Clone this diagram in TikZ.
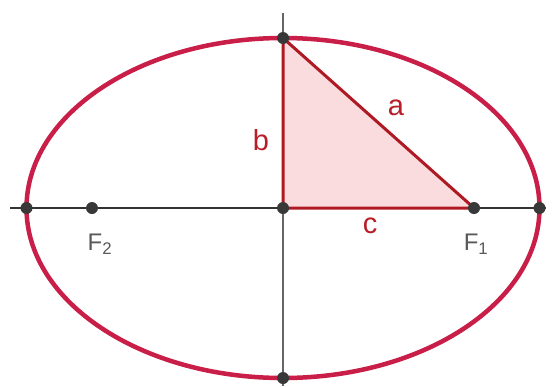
\documentclass[tikz,border=0pt]{standalone}
\usepackage{fontspec}
\setmainfont{Liberation Sans}
\begin{document}
\begin{tikzpicture}[x=1pt,y=-1pt,
  dot/.style={circle,fill=black!78,inner sep=0pt,minimum size=12pt},
  lbl/.style={text=labred,font=\fontsize{29}{31}\selectfont,inner sep=0pt},
  flbl/.style={text=black!65,font=\fontsize{24}{26}\selectfont,inner sep=0pt}]
\definecolor{ellred}{RGB}{200,30,72}
\definecolor{trired}{RGB}{175,25,35}
\definecolor{labred}{RGB}{185,30,40}
\definecolor{trifill}{RGB}{250,220,222}
\useasboundingbox (0,0) rectangle (552,386);
\fill[white] (0,0) rectangle (552,386);
\coordinate (O) at (283,208);
\coordinate (T) at (283,38);
\coordinate (F1c) at (474,208);
% triangle
\fill[trifill] (O) -- (T) -- (F1c) -- cycle;
% axes
\draw[black!80,line width=2pt] (10,208) -- (546,208);
\draw[black!60,line width=1.8pt] (283,13) -- (283,386);
% triangle edges
\draw[trired,line width=3pt] (O) -- (T) -- (F1c) -- cycle;
% ellipse
\draw[ellred,line width=4.5pt] (O) ellipse [x radius=256.5, y radius=170];
% points
\node[dot] (top) at (283,38) {};
\node[dot] (bot) at (283,378) {};
\node[dot] (left) at (26.5,208) {};
\node[dot] (right) at (539.5,208) {};
\node[dot] (ctr) at (O) {};
\node[dot] (f1) at (474,208) {};
\node[dot] (f2) at (92,208) {};
% labels
\node[lbl] (lb) at (261,140) {b};
\node[lbl] (la) at (396,108) {a};
\node[lbl] (lc) at (370,226) {c};
\node[flbl] (lf2) at (100,244) {F\textsubscript{2}};
\node[flbl] (lf1) at (476,244) {F\textsubscript{1}};
\end{tikzpicture}
\end{document}
